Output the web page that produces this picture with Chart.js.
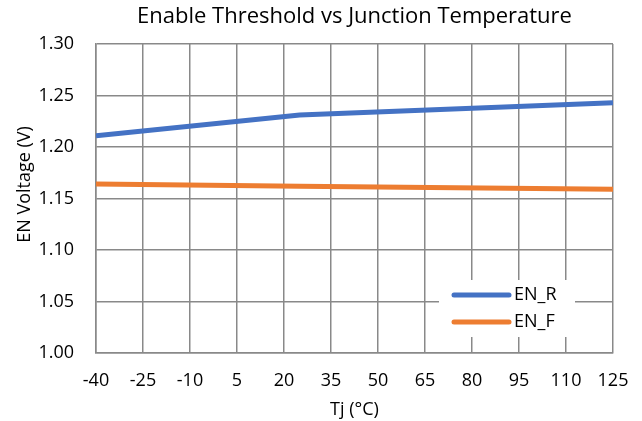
<!DOCTYPE html>
<html>
<head>
<meta charset="utf-8">
<script src="https://cdn.jsdelivr.net/npm/chart.js@4.4.0/dist/chart.umd.min.js"></script>
<style>
  html, body { margin: 0; padding: 0; background: #fff; }
  #marco { width: 642px; height: 421px; }
</style>
</head>
<body>
<div id="marco"><canvas id="grafico"></canvas></div>
<script>
// Datos (Tj en °C, tension en V)
const tempR = [-40, 25, 125];
const voltR = [1.211, 1.231, 1.243];
const tempF = [-40, 25, 125];
const voltF = [1.164, 1.162, 1.159];
const nombres = ['EN_R', 'EN_F'];

// Rango y paso de los ejes
const xMin = -40, xMax = 125, xPaso = 15;
const yMin = 1.0, yMax = 1.3, yPaso = 0.05;

const gris = '#898989';
const fuente = '"Open Sans"';
const tituloEjeY = 'EN Voltage (V)';

// Leyenda dibujada dentro del area del grafico, como en el original
const leyendaDentro = {
  id: 'leyendaDentro',
  afterDatasetsDraw(chart) {
    const ctx = chart.ctx;
    const a = chart.chartArea;
    const x0 = a.right - 174, y0 = a.bottom - 73;
    ctx.save();
    ctx.fillStyle = '#fff';
    ctx.fillRect(x0, y0, 136, 57);
    chart.data.datasets.forEach((ds, i) => {
      const y = y0 + 15 + i * 27;
      ctx.strokeStyle = ds.borderColor;
      ctx.lineWidth = 5;
      ctx.lineCap = 'round';
      ctx.beginPath();
      ctx.moveTo(x0 + 15, y);
      ctx.lineTo(x0 + 70, y);
      ctx.stroke();
      ctx.fillStyle = '#000';
      ctx.font = '18px ' + fuente;
      ctx.textBaseline = 'middle';
      ctx.fillText(ds.label, x0 + 75, y);
    });
    ctx.restore();
  }
};

// Titulo del eje Y: en el original no esta centrado, va algo mas arriba
const tituloY = {
  id: 'tituloY',
  afterDraw(chart) {
    const ctx = chart.ctx;
    const a = chart.chartArea;
    ctx.save();
    ctx.translate(25, (a.top + a.bottom) / 2 - 14);
    ctx.rotate(-Math.PI / 2);
    ctx.fillStyle = '#000';
    ctx.font = '18px ' + fuente;
    ctx.textAlign = 'center';
    ctx.textBaseline = 'middle';
    ctx.fillText(tituloEjeY, 0, 0);
    ctx.restore();
  }
};

new Chart(document.getElementById('grafico'), {
  type: 'line',
  data: {
    datasets: [
      {
        label: nombres[0],
        data: tempR.map((t, i) => ({ x: t, y: voltR[i] })),
        borderColor: '#4472C4',
        borderWidth: 5,
        pointRadius: 0,
        tension: 0
      },
      {
        label: nombres[1],
        data: tempF.map((t, i) => ({ x: t, y: voltF[i] })),
        borderColor: '#ED7D31',
        borderWidth: 5,
        pointRadius: 0,
        tension: 0
      }
    ]
  },
  options: {
    responsive: true,
    maintainAspectRatio: false,
    animation: false,
    layout: { padding: { top: 0, right: 29, bottom: 0, left: 0 } },
    plugins: {
      legend: { display: false },
      tooltip: { enabled: false },
      title: {
        display: true,
        fullSize: false,
        text: 'Enable Threshold vs Junction Temperature',
        color: '#000',
        font: { family: fuente, size: 22, weight: 'normal', lineHeight: 1.2 },
        padding: { top: 4, bottom: 13.6 }
      }
    },
    scales: {
      x: {
        type: 'linear',
        min: xMin,
        max: xMax,
        ticks: {
          stepSize: xPaso,
          color: '#000',
          padding: 17,
          font: { family: fuente, size: 18 }
        },
        grid: { color: gris, lineWidth: 1.5, drawTicks: false },
        border: { color: gris, width: 1.5 },
        title: {
          display: true,
          text: 'Tj (°C)',
          color: '#000',
          font: { family: fuente, size: 18 },
          padding: { top: 4, bottom: 0 }
        },
        afterFit(s) { s.height = 68; s.paddingLeft = 0; s.paddingRight = 0; }
      },
      y: {
        min: yMin,
        max: yMax,
        ticks: {
          stepSize: yPaso,
          color: '#000',
          padding: 22,
          font: { family: fuente, size: 18 },
          callback: v => v.toFixed(2)
        },
        grid: { color: gris, lineWidth: 1.5, drawTicks: false },
        border: { color: gris, width: 1.5 },
        afterFit(s) { s.width = 96; s.paddingTop = 0; s.paddingBottom = 0; }
      }
    }
  },
  plugins: [leyendaDentro, tituloY]
});
</script>
</body>
</html>
